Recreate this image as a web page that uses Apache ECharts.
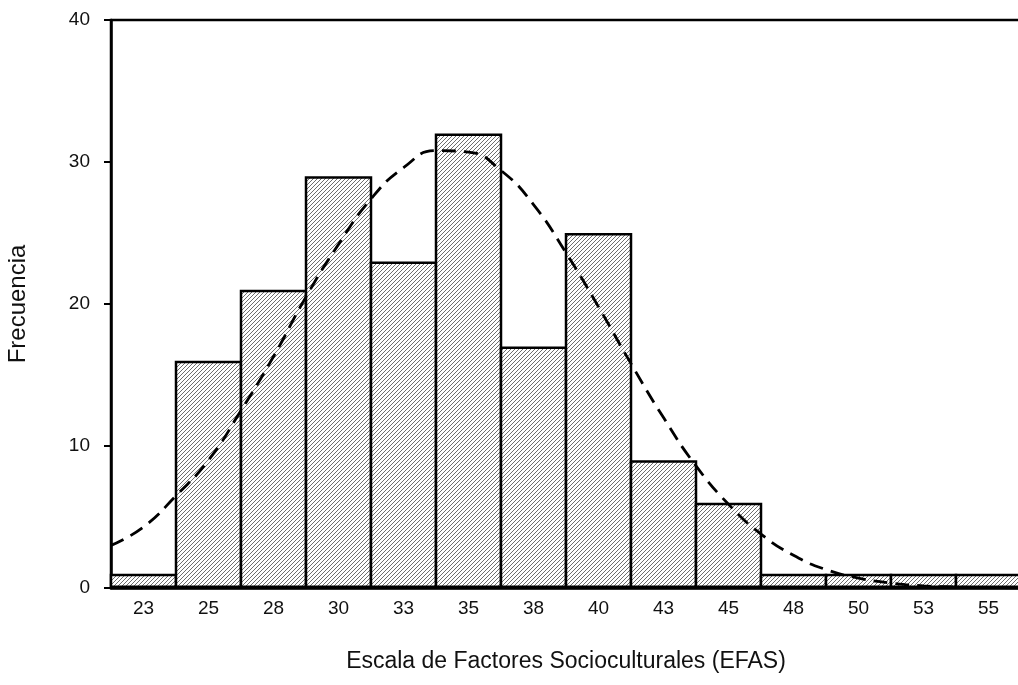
<!DOCTYPE html>
<html>
<head>
<meta charset="utf-8">
<script src="https://cdn.jsdelivr.net/npm/echarts@6/dist/echarts.min.js"></script>
<style>
  html, body { margin: 0; padding: 0; background: #fff; }
  #chart { width: 1018px; height: 685px; }
</style>
</head>
<body>
<div id="chart"></div>
<script>
// etiquetas de las clases (puntos medios redondeados)
const categories = ['23', '25', '28', '30', '33', '35', '38', '40', '43', '45', '48', '50', '53', '55'];
const frequencies = [1, 16, 21, 29, 23, 32, 17, 25, 9, 6, 1, 1, 1, 1];
// curva normal: valor de la escala y frecuencia
const curveX = [21.25, 22.5, 23.75, 25, 26.25, 27.5, 28.75, 30, 31.25, 32.5, 33.75, 35, 36.25, 37.5,
  38.75, 40, 41.25, 42.5, 43.75, 45, 46.25, 47.5, 48.75, 50, 51.25, 52.5, 53.75, 55, 56.25];
const curveY = [3.0, 4.3, 6.5, 9.0, 12.5, 16.3, 20.5, 24.2, 27.4, 29.6, 30.8, 30.7, 29.4, 27.0,
  23.6, 19.8, 15.8, 12.0, 8.6, 5.9, 3.8, 2.3, 1.3, 0.7, 0.35, 0.15, 0.07, 0.03, 0.01];
const yTicks = [0, 10, 20, 30, 40];

// trama rayada de las barras
const hatch = document.createElement('canvas');
hatch.width = 4;
hatch.height = 4;
const ctx = hatch.getContext('2d');
ctx.fillStyle = '#ffffff';
ctx.fillRect(0, 0, 4, 4);
ctx.strokeStyle = '#6e6e6e';
ctx.lineWidth = 1;
ctx.beginPath();
ctx.moveTo(0, 4); ctx.lineTo(4, 0);
ctx.moveTo(-1, 1); ctx.lineTo(1, -1);
ctx.moveTo(3, 5); ctx.lineTo(5, 3);
ctx.stroke();

const chart = echarts.init(document.getElementById('chart'));

const option = {
  animation: false,
  grid: {
    left: 111, right: -3, top: 20, bottom: 97,
    outerBoundsMode: 'none',
    containLabel: false,
    show: true, borderColor: '#000', borderWidth: 2.5, backgroundColor: 'transparent'
  },
  xAxis: [
    {
      type: 'category',
      data: categories,
      boundaryGap: true,
      name: 'Escala de Factores Socioculturales (EFAS)',
      nameLocation: 'middle',
      nameGap: 62,
      nameTextStyle: { fontFamily: 'Liberation Sans', fontSize: 23, color: '#111' },
      axisLine: { lineStyle: { color: '#000', width: 2.5 } },
      axisTick: { alignWithLabel: true, length: 5, lineStyle: { color: '#000', width: 2 } },
      axisLabel: { fontFamily: 'Liberation Sans', fontSize: 19, color: '#111', margin: 11 }
    },
    {
      type: 'value',
      min: 21.25,
      max: 56.25,
      show: false
    }
  ],
  yAxis: {
    type: 'value',
    min: 0,
    max: 40,
    interval: 10,
    name: 'Frecuencia',
    nameLocation: 'middle',
    nameGap: 81,
    nameTextStyle: { fontFamily: 'Liberation Sans', fontSize: 24, color: '#111' },
    splitLine: { show: false },
    axisLine: { show: true, lineStyle: { color: '#000', width: 2.5 } },
    axisTick: { show: true, length: 7, lineStyle: { color: '#000', width: 2 } },
    axisLabel: {
      fontFamily: 'Liberation Sans', fontSize: 19, color: '#111', margin: 21,
      formatter: v => (yTicks.includes(v) ? String(v) : '')
    }
  },
  series: [
    {
      type: 'bar',
      data: frequencies,
      barWidth: 67.5,
      itemStyle: {
        color: { image: hatch, repeat: 'repeat' },
        borderColor: '#000',
        borderWidth: 2.5
      }
    },
    {
      type: 'line',
      xAxisIndex: 1,
      data: curveX.map((x, i) => [x, curveY[i]]),
      smooth: true,
      showSymbol: false,
      lineStyle: { color: '#000', width: 2.8, type: [14, 8] },
      z: 5
    }
  ]
};

chart.setOption(option);
</script>
</body>
</html>
